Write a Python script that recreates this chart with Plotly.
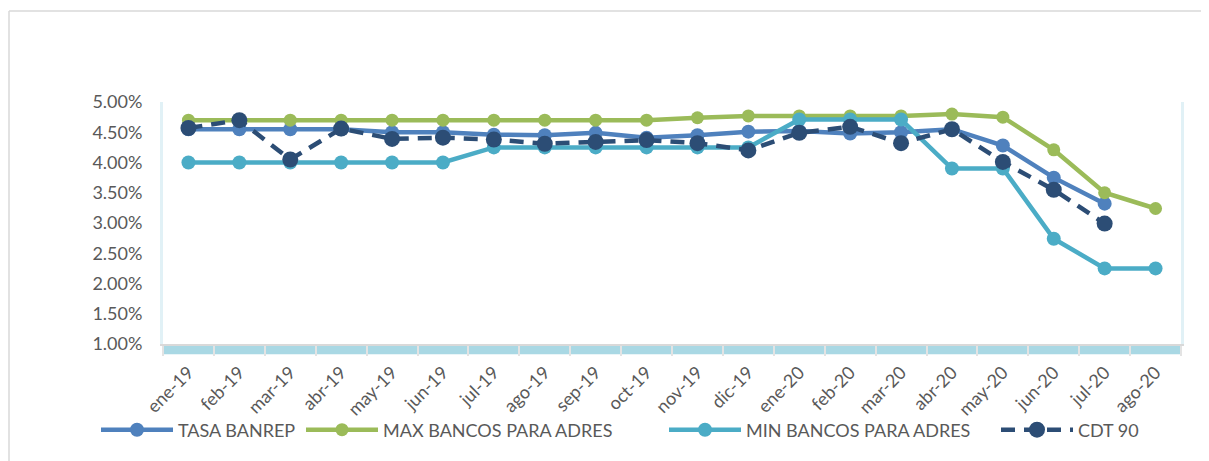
import plotly.graph_objects as go

categories = ["ene-19", "feb-19", "mar-19", "abr-19", "may-19", "jun-19", "jul-19", "ago-19",
              "sep-19", "oct-19", "nov-19", "dic-19", "ene-20", "feb-20", "mar-20", "abr-20",
              "may-20", "jun-20", "jul-20", "ago-20"]

tasa_banrep = [4.55, 4.55, 4.55, 4.55, 4.50, 4.50, 4.46, 4.45, 4.49, 4.41, 4.45, 4.51,
               4.52, 4.48, 4.50, 4.55, 4.28, 3.75, 3.32, None]
max_bancos = [4.70, 4.70, 4.70, 4.70, 4.70, 4.70, 4.70, 4.70, 4.70, 4.70, 4.74, 4.77,
              4.77, 4.77, 4.77, 4.80, 4.75, 4.21, 3.50, 3.24]
min_bancos = [4.00, 4.00, 4.00, 4.00, 4.00, 4.00, 4.25, 4.25, 4.25, 4.25, 4.25, 4.25,
              4.71, 4.71, 4.71, 3.90, 3.90, 2.74, 2.25, 2.25]
cdt_90 = [4.57, 4.70, 4.05, 4.56, 4.39, 4.41, 4.38, 4.31, 4.34, 4.37, 4.32, 4.20,
          4.49, 4.59, 4.32, 4.55, 4.01, 3.55, 2.99, None]

y_ticks = [1, 1.5, 2, 2.5, 3, 3.5, 4, 4.5, 5]
y_tick_labels = ["1.00%", "1.50%", "2.00%", "2.50%", "3.00%", "3.50%", "4.00%", "4.50%", "5.00%"]

FONT = "Lato, 'Open Sans', 'Liberation Sans', sans-serif"
TXT = "#595959"

L, R, T, B = 155, 36, 94, 125
PW = 1209 - L - R
PH = 461 - T - B


def px_x(p):
    return (p - L) / PW


def px_y(p):
    return (461 - B - p) / PH


fig = go.Figure()
series = [
    ("TASA BANREP", tasa_banrep, "#4F81BD", "solid", 14, "legend", 92),
    ("MAX BANCOS PARA ADRES", max_bancos, "#9BBB59", "solid", 13, "legend2", 297),
    ("MIN BANCOS PARA ADRES", min_bancos, "#4BACC6", "solid", 14, "legend3", 660),
    ("CDT 90", cdt_90, "#2C4D75", "14px,9px", 16, "legend4", 992),
]
legends = {}
for name, vals, color, dash, msize, lg, lx in series:
    fig.add_trace(go.Scatter(
        x=categories, y=vals, name=name, mode="lines+markers",
        line=dict(color=color, width=4.5, dash=dash),
        marker=dict(color=color, size=msize),
        connectgaps=False, legend=lg,
    ))
    legends[lg] = dict(orientation="h", x=px_x(lx - 4), xanchor="left",
                       y=px_y(422), yanchor="middle", itemwidth=72,
                       bgcolor="rgba(0,0,0,0)",
                       font=dict(family=FONT, size=18, color=TXT))

# light blue floor band below plot area
fig.add_shape(type="rect", xref="paper", yref="paper", x0=0, x1=1, y0=-0.042, y1=0,
              fillcolor="#A9D8E4", line=dict(width=0), layer="below")
# outer chart border (top and left)
fig.add_shape(type="line", xref="paper", yref="paper", x0=px_x(1), x1=px_x(1300),
              y0=px_y(3), y1=px_y(3), line=dict(color="#D9D9D9", width=1.5))
fig.add_shape(type="line", xref="paper", yref="paper", x0=px_x(1), x1=px_x(1),
              y0=px_y(3), y1=px_y(500), line=dict(color="#D9D9D9", width=1.5))

fig.update_layout(
    width=1209, height=461,
    margin=dict(l=L, r=R, t=T, b=B, autoexpand=False),
    paper_bgcolor="white", plot_bgcolor="white",
    font=dict(family=FONT, size=18, color=TXT),
    showlegend=True,
    xaxis=dict(type="category", range=[-0.5, 19.5], showgrid=False, zeroline=False,
               showline=True, linecolor="#D9D9D9", linewidth=2,
               ticks="outside", tickson="boundaries", ticklen=10, tickcolor="#E3E3E3",
               tickwidth=2, tickangle=-45, ticklabelstandoff=9,
               tickfont=dict(family=FONT, size=18, color=TXT)),
    yaxis=dict(range=[1, 5], tickvals=y_ticks, ticktext=y_tick_labels, showgrid=False,
               zeroline=False, showline=True, linecolor="#E1F1F6", linewidth=3, mirror=True,
               ticks="", ticklabelstandoff=14,
               tickfont=dict(family=FONT, size=18, color=TXT)),
    **legends,
)

fig.write_html("out.html")
